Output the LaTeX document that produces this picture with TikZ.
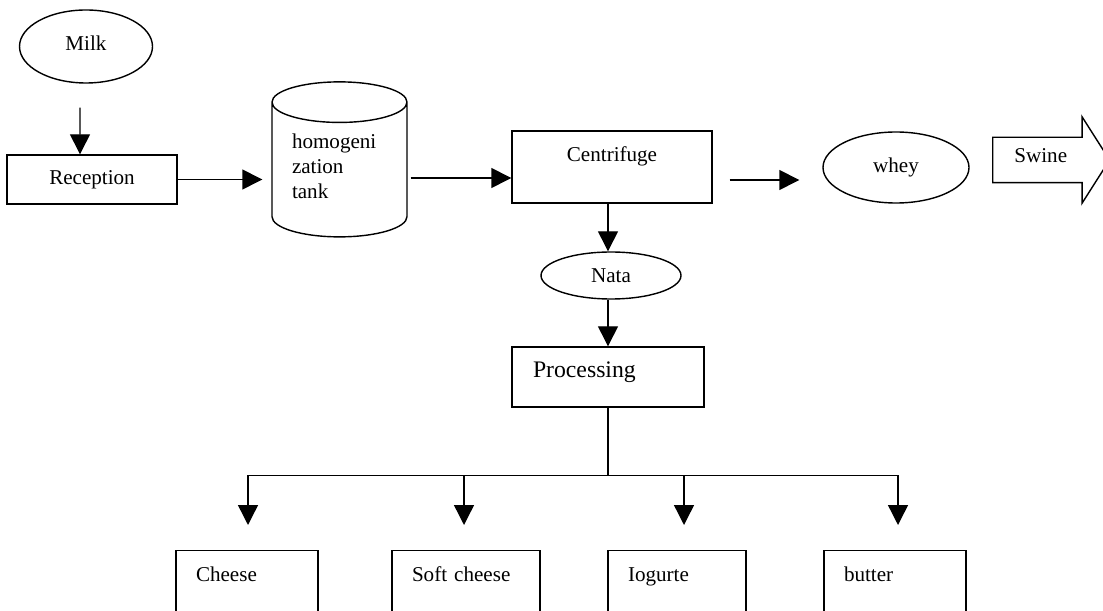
\documentclass[tikz,border=0pt]{standalone}
\usepackage{fontspec}
\setmainfont{Liberation Serif}
\usetikzlibrary{arrows.meta, positioning, shapes.geometric, shapes.arrows, calc}
\tikzset{
	box/.style={rectangle, draw=black, line width=0.8pt, inner ysep=0pt, align=center, font=\fontsize{12}{14.2}\selectfont},
	leftbox/.style={box, align=left, inner xsep=0.4cm, text height=0.62cm, anchor=north},
	tub/.style={ellipse, draw=black, line width=0.8pt, inner sep=0pt, align=center, font=\fontsize{12}{14.2}\selectfont},
	tank/.style={cylinder, shape border rotate=90, aspect=0.38, draw=black, line width=0.8pt, align=left, font=\fontsize{12}{14.2}\selectfont},
	fat/.style={single arrow, draw=black, line width=0.8pt, inner ysep=0pt, single arrow tip angle=115, font=\fontsize{12}{14.2}\selectfont},
	arrow/.style={-{Triangle[length=0.4cm, width=0.4cm]}, line width=0.8pt},
	feed/.style={line width=0.8pt},
}
\begin{document}
\begin{tikzpicture}
		\useasboundingbox (0,0) rectangle (22.06,-12.22);
		\clip (0,0) rectangle (22.06,-12.22);
		% intake
		\node[tub, minimum width=2.66cm, minimum height=1.46cm, text depth=0.14cm] (milk) at (1.72,-0.93) {Milk};
		\node[box, minimum width=3.4cm, minimum height=0.98cm] (reception) at (1.84,-3.59) {Reception};
		\node[tank, minimum width=2.7cm, minimum height=3.1cm, text width=1.9cm, text depth=1.3cm] (homtank) at (6.79,-3.48) {homogeni\\zation\\tank};
		\node[box, minimum width=4.0cm, text height=0.62cm, text depth=0.82cm] (centri) at (12.24,-3.34) {Centrifuge};
		\node[tub, minimum width=2.92cm, minimum height=1.42cm] (whey) at (17.92,-3.35) {whey};
		\node[fat, inner xsep=0.42cm, text width=1.18cm, align=left, text height=0.5cm, text depth=0.38cm, minimum width=1.7cm, single arrow head extend=0.41cm, anchor=tail] (swine) at (19.84,-3.2) {Swine};
		\node[tub, minimum width=2.8cm, minimum height=0.94cm] (nata) at (12.22,-5.51) {Nata};
		\node[box, inner xsep=0.42cm, text width=3.0cm, align=left, text height=0.62cm, text depth=0.58cm, font=\fontsize{13.5}{16}\selectfont] (proc) at (12.16,-7.54) {Processing};
		% products
		\node[leftbox, text width=2.04cm, text depth=1.38cm] (cheese) at (4.94,-11.0) {Cheese};
		\node[leftbox, text width=2.16cm, text depth=1.38cm] (softcheese) at (9.32,-11.0) {Soft cheese};
		\node[leftbox, text width=1.96cm, text depth=1.38cm] (iogurte) at (13.54,-11.0) {Iogurte};
		\node[leftbox, text width=2.04cm, text depth=1.38cm] (butter) at (17.9,-11.0) {butter};
		\coordinate (split) at ([yshift=-1.36cm]proc.south);
		% connectors
		\draw[arrow] ([xshift=-0.12cm, yshift=-0.48cm]milk.south) -- ([xshift=-0.24cm]reception.north);
		\draw[arrow, shorten >=0.18cm] (reception.east) -- (homtank.west |- reception.east);
		\draw[arrow, shorten <=0.06cm] ([yshift=-0.22cm]centri.west -| homtank.east) -- ([yshift=-0.22cm]centri.west);
		\draw[arrow, shorten <=0.34cm, shorten >=0.46cm] ([yshift=-0.26cm]centri.east) -- ([yshift=-0.26cm]centri.east -| whey.west);
		\draw[arrow] ([xshift=-0.08cm]centri.south) -- ([xshift=-0.08cm]centri.south |- nata.north);
		\draw[arrow] (proc.north |- nata.south) -- (proc.north);
		\draw[feed] (proc.south) -- (split);
		\draw[arrow, shorten >=0.5cm] (split) -| ([xshift=0.02cm]cheese.north);
		\draw[arrow, shorten >=0.5cm] (split) -| ([xshift=-0.04cm]softcheese.north);
		\draw[arrow, shorten >=0.5cm] (split) -| ([xshift=0.14cm]iogurte.north);
		\draw[arrow, shorten >=0.5cm] (split) -| ([xshift=0.06cm]butter.north);
	\end{tikzpicture}
\end{document}
